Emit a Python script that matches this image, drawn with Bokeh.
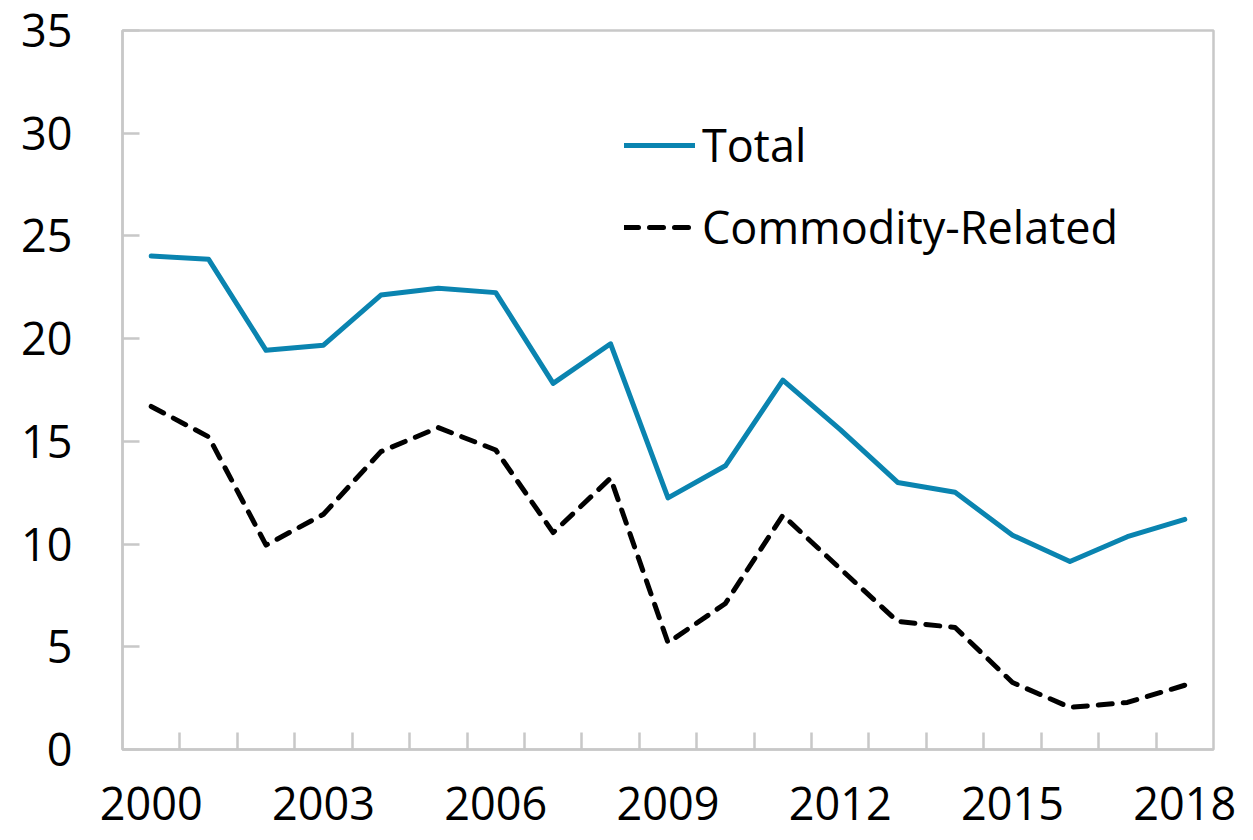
from bokeh.plotting import figure
from bokeh.models import FixedTicker, Legend, LegendItem, Range1d
from bokeh.embed import file_html
from bokeh.resources import INLINE

years = list(range(2000, 2019))
total = [24.02, 23.86, 19.43, 19.68, 22.12, 22.45, 22.24, 17.82, 19.75,
         12.25, 13.81, 17.98, 15.57, 13.00, 12.52, 10.43, 9.15, 10.36, 11.20]
commodity = [16.70, 15.22, 9.95, 11.45, 14.50, 15.67, 14.58, 10.56, 13.21,
             5.20, 7.11, 11.40, 8.80, 6.23, 5.94, 3.26, 2.05, 2.29, 3.13]
x_labels = [2000, 2003, 2006, 2009, 2012, 2015, 2018]
y_ticks = [0, 5, 10, 15, 20, 25, 30, 35]

FONT = "Open Sans"
FSIZE = "45px"
GRAY = "#c8c8c8"
BLUE = "#0a84b0"

p = figure(width=1253, height=840, output_backend="svg", toolbar_location=None,
           x_range=Range1d(1999.5, 2018.5), y_range=Range1d(0, 35),
           min_border_left=122, min_border_right=40, min_border_top=30,
           min_border_bottom=91)
p.outline_line_color = GRAY
p.outline_line_width = 2.5
p.grid.visible = False
p.background_fill_color = "white"
p.border_fill_color = "white"

r1 = p.line(years, total, line_color=BLUE, line_width=5, line_join="round", line_cap="round")
r2 = p.line(years, commodity, line_color="black", line_width=5, line_dash="14 11",
            line_join="round", line_cap="round")

xa = p.xaxis[0]
xa.ticker = FixedTicker(ticks=x_labels, minor_ticks=[y + 0.5 for y in years[:-1]])
xa.axis_line_color = GRAY
xa.axis_line_width = 2.5
xa.major_tick_in = 0
xa.major_tick_out = 0
xa.minor_tick_in = 17
xa.minor_tick_out = 0
xa.minor_tick_line_color = GRAY
xa.minor_tick_line_width = 2.5
xa.major_label_text_font = FONT
xa.major_label_text_font_size = FSIZE
xa.major_label_text_color = "black"
xa.major_label_standoff = 37

ya = p.yaxis[0]
ya.ticker = FixedTicker(ticks=y_ticks, minor_ticks=[])
ya.axis_line_color = GRAY
ya.axis_line_width = 2.5
ya.major_tick_in = 17
ya.major_tick_out = 0
ya.major_tick_line_color = GRAY
ya.major_tick_line_width = 2.5
ya.minor_tick_in = 0
ya.minor_tick_out = 0
ya.major_label_text_font = FONT
ya.major_label_text_font_size = FSIZE
ya.major_label_text_color = "black"
ya.major_label_standoff = 50

legend = Legend(items=[LegendItem(label="Total", renderers=[r1]),
                       LegendItem(label="Commodity-Related", renderers=[r2])],
                location=(502, 492), orientation="vertical")
legend.label_text_font = FONT
legend.label_text_font_size = FSIZE
legend.label_text_color = "black"
legend.glyph_width = 71
legend.glyph_height = 40
legend.label_height = 40
legend.label_standoff = 7
legend.spacing = 21
legend.padding = 0
legend.margin = 0
legend.border_line_color = None
legend.background_fill_alpha = 0
p.add_layout(legend)

open("out.html", "w").write(file_html(p, INLINE))
